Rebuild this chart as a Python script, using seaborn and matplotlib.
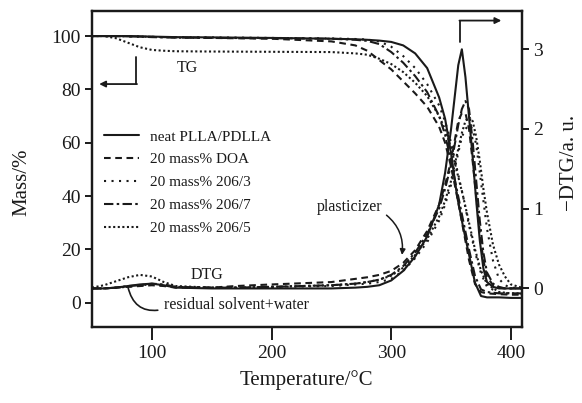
import matplotlib
matplotlib.use("Agg")
import matplotlib.pyplot as plt
import seaborn as sns
import pandas as pd

# ---------------- data ----------------
labels = ["neat PLLA/PDLLA", "20 mass% DOA", "20 mass% 206/3", "20 mass% 206/7", "20 mass% 206/5"]

T_tg = [50, 60, 70, 80, 90, 100, 110, 120, 150, 200, 250, 270, 280, 290, 300, 310, 320,
        330, 340, 345, 350, 355, 360, 365, 370, 375, 380, 390, 400, 409]
tg_neat = [100, 100, 100, 100, 99.9, 99.8, 99.7, 99.6, 99.5, 99.3, 99.0, 98.8, 98.6, 98.3, 97.8,
           96.5, 93.5, 88, 77, 69, 56, 40, 28.5, 18, 7.5, 2.5, 2.0, 2.0, 1.8, 1.8]
tg_doa = [100, 100, 100, 99.9, 99.8, 99.7, 99.6, 99.5, 99.3, 99.0, 98.0, 96.5, 94.5, 91, 87.5,
          83, 78.5, 73.5, 66, 60, 51, 40, 28, 16, 7, 4, 3.5, 3.2, 3, 3]
tg_2063 = [100, 100, 100, 99.9, 99.8, 99.7, 99.6, 99.6, 99.5, 99.3, 99.1, 98.9, 98.7, 98.0, 96,
           92.5, 88, 82, 74, 68, 60, 50, 40, 29, 19, 11, 6, 3.8, 3.3, 3.2]
tg_2067 = [100, 100, 100, 99.9, 99.8, 99.6, 99.5, 99.4, 99.3, 99.2, 99.0, 98.6, 98.2, 97, 94,
           90, 85, 79, 70, 63, 53, 42, 31, 20, 10, 5, 4, 3.5, 3.5, 3.5]
tg_2065 = [100, 100, 99.2, 97.5, 95.8, 94.8, 94.5, 94.3, 94.2, 94.1, 94.0, 93.5, 93, 91.5, 89.5,
           86.5, 82.5, 77.5, 70, 65, 58, 49, 40, 30, 20, 12, 7, 4, 3.5, 3.5]

T_dtg = [50, 60, 70, 80, 90, 100, 110, 120, 150, 170, 200, 250, 270, 280, 290, 300, 310, 320,
         330, 340, 345, 350, 353, 356, 359, 362, 365, 368, 371, 374, 377, 380, 385, 390, 395,
         400, 409]
dtg_neat = [0, 0, 0.01, 0.03, 0.05, 0.06, 0.04, 0.01, 0, 0, 0, 0, 0.01, 0.02, 0.04, 0.10, 0.22,
            0.40, 0.65, 1.05, 1.45, 2.0, 2.4, 2.8, 3.0, 2.65, 2.15, 1.65, 1.1, 0.6, 0.25, 0.08,
            0.02, 0, 0, 0, 0]
dtg_doa = [0, 0, 0.01, 0.02, 0.03, 0.04, 0.03, 0.01, 0.01, 0.03, 0.05, 0.08, 0.12, 0.14, 0.17,
           0.22, 0.32, 0.48, 0.72, 1.05, 1.3, 1.6, 1.85, 2.1, 2.2, 2.2, 2.0, 1.6, 1.15, 0.7,
           0.35, 0.15, 0.04, 0.01, 0, 0, 0]
dtg_2063 = [0, 0, 0.01, 0.02, 0.04, 0.05, 0.04, 0.02, 0.01, 0.01, 0.02, 0.03, 0.05, 0.06, 0.08,
            0.12, 0.22, 0.38, 0.58, 0.85, 1.05, 1.3, 1.5, 1.7, 1.9, 2.0, 2.05, 2.0, 1.8, 1.45,
            1.1, 0.75, 0.35, 0.12, 0.04, 0.01, 0]
dtg_2067 = [0, 0, 0.01, 0.03, 0.04, 0.06, 0.05, 0.02, 0.01, 0.01, 0.02, 0.04, 0.06, 0.08, 0.11,
            0.17, 0.28, 0.45, 0.68, 1.0, 1.25, 1.55, 1.8, 2.05, 2.25, 2.35, 2.25, 1.85, 1.35,
            0.85, 0.45, 0.2, 0.06, 0.02, 0, 0, 0]
dtg_2065 = [0.01, 0.04, 0.09, 0.14, 0.17, 0.15, 0.08, 0.03, 0.01, 0.01, 0.02, 0.04, 0.06, 0.08,
            0.11, 0.16, 0.26, 0.42, 0.62, 0.9, 1.1, 1.35, 1.55, 1.75, 1.95, 2.1, 2.15, 2.1, 1.9,
            1.6, 1.25, 0.95, 0.55, 0.3, 0.15, 0.05, 0.01]

xticks = [100, 200, 300, 400]
yticks_left = [0, 20, 40, 60, 80, 100]
yticks_right = [0, 1, 2, 3]

# ---------------- style ----------------
sns.set_style("ticks")
plt.rcParams["font.family"] = ["Liberation Serif", "DejaVu Serif"]
ink = "#1a1a1a"

styles = ["-", (0, (3.2, 2.2)), (0, (1, 2.6)), (0, (4.5, 1.6, 1.2, 1.6)), (0, (1, 1.2))]
tg_sets = [tg_neat, tg_doa, tg_2063, tg_2067, tg_2065]
dtg_sets = [dtg_neat, dtg_doa, dtg_2063, dtg_2067, dtg_2065]

fig = plt.figure(figsize=(5.82, 4.03), dpi=100)
ax = fig.add_axes([92 / 582, 1 - 326.7 / 403, (521.7 - 92) / 582, (326.7 - 11) / 403])
ax2 = ax.twinx()

for lab, ys, ls in zip(labels, tg_sets, styles):
    df = pd.DataFrame({"T": T_tg, "m": ys})
    sns.lineplot(data=df, x="T", y="m", ax=ax, color=ink, linestyle=ls, lw=1.5, label=lab)
for lab, ys, ls in zip(labels, dtg_sets, styles):
    df = pd.DataFrame({"T": T_dtg, "d": ys})
    sns.lineplot(data=df, x="T", y="d", ax=ax2, color=ink, linestyle=ls, lw=1.5, legend=False)

ax.set_xlim(50, 409)
ax.set_ylim(-9, 109.4)
ax2.set_ylim(-0.48, 3.48)
ax.set_xticks(xticks)
ax.set_yticks(yticks_left)
ax2.set_yticks(yticks_right)

for a in (ax, ax2):
    for s in a.spines.values():
        s.set_linewidth(1.6)
        s.set_color(ink)
ax.tick_params(axis="x", length=9, width=1.4, labelsize=14, colors=ink, pad=4)
ax.tick_params(axis="y", length=5, width=1.4, labelsize=14, colors=ink, pad=3)
ax2.tick_params(axis="y", length=5, width=1.4, labelsize=14, colors=ink, pad=3)

ax.set_xlabel("Temperature/°C", fontsize=15, color=ink, labelpad=6)
ax.set_ylabel("Mass/%", fontsize=15, color=ink)
ax.yaxis.set_label_coords(-0.142, 0.457)
ax2.set_ylabel("\u2212DTG/a. u.", fontsize=15, color=ink)
ax2.yaxis.set_label_coords(1.089, 0.52)

leg = ax.legend(loc="upper left", bbox_to_anchor=(0.013, 0.643), frameon=False, fontsize=11,
                handlelength=2.3, handletextpad=0.75, labelspacing=0.6, borderaxespad=0)
for t in leg.get_texts():
    t.set_color(ink)

# annotations
ax.text(130, 88, "TG", fontsize=11.5, color=ink, ha="center", va="center")
ax.plot([87, 87], [92, 82], color=ink, lw=1.3)
ax.annotate("", xy=(56, 82), xytext=(87.6, 82),
            arrowprops=dict(arrowstyle="-|>", color=ink, lw=1.3, mutation_scale=9, shrinkA=0, shrinkB=0))

ax2.plot([357.6, 357.6], [3.09, 3.36], color=ink, lw=1.3)
ax2.annotate("", xy=(392, 3.36), xytext=(357.0, 3.36),
             arrowprops=dict(arrowstyle="-|>", color=ink, lw=1.3, mutation_scale=9, shrinkA=0, shrinkB=0))

ax2.text(146, 0.17, "DTG", fontsize=11.5, color=ink, ha="center", va="center")
ax2.annotate("residual solvent+water", xy=(80, 0.02), xytext=(110, -0.21),
             fontsize=11.5, color=ink, ha="left", va="center",
             arrowprops=dict(arrowstyle="-", color=ink, lw=1.2, shrinkA=2, shrinkB=0,
                             relpos=(0, 0.25), connectionstyle="arc3,rad=-0.5"))
ax2.annotate("plasticizer", xy=(309, 0.42), xytext=(265, 1.02),
             fontsize=11.5, color=ink, ha="center", va="center",
             arrowprops=dict(arrowstyle="-|>", color=ink, lw=1.1, shrinkA=1, shrinkB=0,
                             relpos=(1.0, 0.2), mutation_scale=8, connectionstyle="arc3,rad=-0.3"))

fig.savefig("out.png", dpi=100)
